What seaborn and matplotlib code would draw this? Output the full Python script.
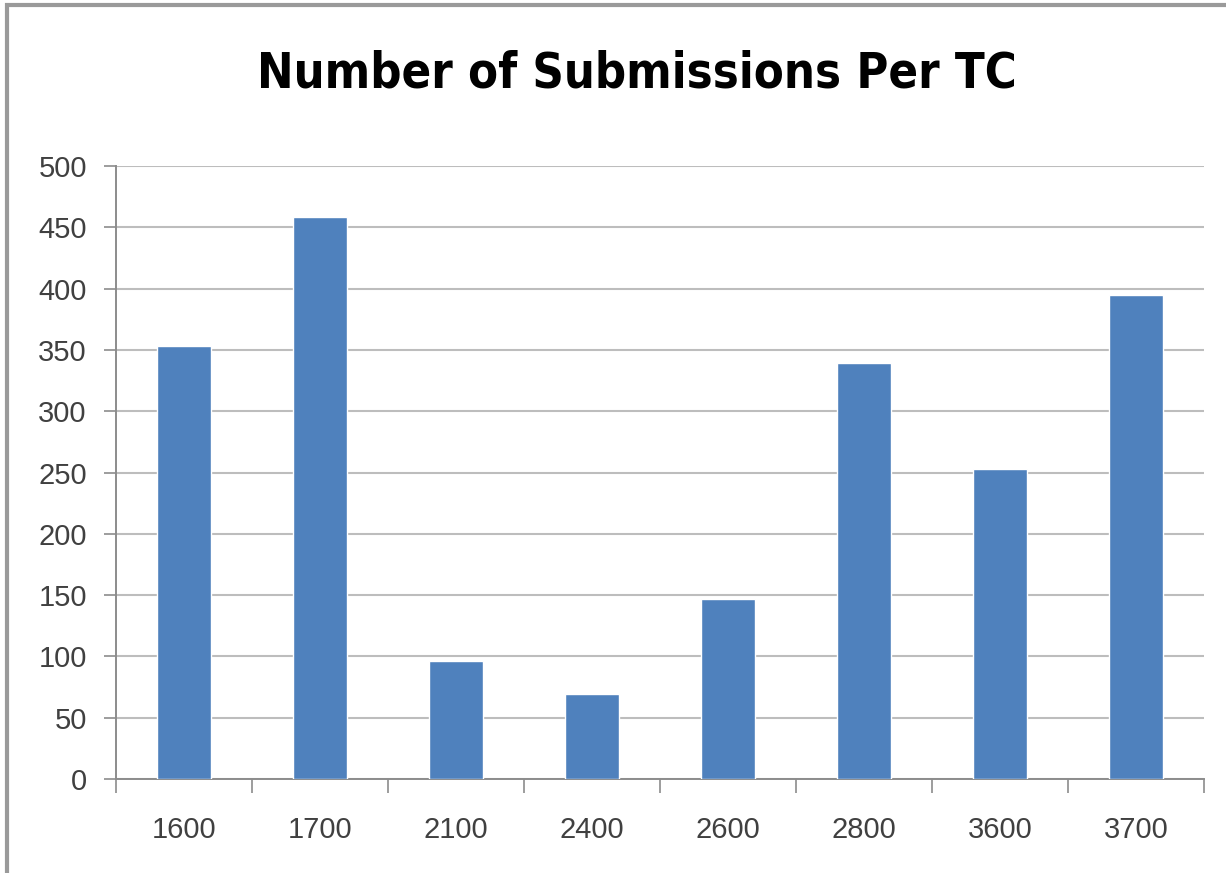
import pandas as pd
import matplotlib.pyplot as plt
import seaborn as sns
from matplotlib.patches import Rectangle

# ── Data ──────────────────────────────────────────────────────────────────
tc_codes = ['1600', '1700', '2100', '2400', '2600', '2800', '3600', '3700']
submissions = [353, 458, 96, 69, 147, 339, 253, 395]
y_ticks = [0, 50, 100, 150, 200, 250, 300, 350, 400, 450, 500]

df = pd.DataFrame({'tc': tc_codes, 'count': submissions})

# ── Style ─────────────────────────────────────────────────────────────────
sns.set_style('white')
plt.rcParams['font.family'] = ['Liberation Sans', 'DejaVu Sans']

bar_color = '#4F81BD'
grid_color = '#BDBDBD'
axis_color = '#8C8C8C'
label_color = '#404040'

fig = plt.figure(figsize=(12.26, 8.73), dpi=100)
ax = fig.add_axes([116 / 1226, 1 - 779 / 873, 1088 / 1226, 613 / 873])

sns.barplot(data=df, x='tc', y='count', color=bar_color, saturation=1,
            width=0.39, ax=ax, zorder=3)

ax.set_ylim(0, 500)
ax.set_xlim(-0.5, len(tc_codes) - 0.5)
ax.set_yticks(y_ticks)
ax.yaxis.grid(True, color=grid_color, linewidth=1.5, zorder=0)
ax.set_axisbelow(True)

# category separators as tick marks on x axis
ax.set_xticks([i + 0.5 for i in range(-1, len(tc_codes))], minor=True)
ax.tick_params(axis='x', which='minor', length=10, width=1.2,
               color=axis_color, direction='out', bottom=True)
ax.tick_params(axis='x', which='major', length=0, pad=27,
               labelsize=21, labelcolor=label_color)
ax.tick_params(axis='y', which='major', length=9, width=1.2,
               color=axis_color, direction='out', left=True, pad=12,
               labelsize=21, labelcolor=label_color)

for side in ['top', 'right']:
    ax.spines[side].set_visible(False)
for side in ['left', 'bottom']:
    ax.spines[side].set_color(axis_color)
    ax.spines[side].set_linewidth(1.4)

ax.set_xlabel('')
ax.set_ylabel('')

fig.text(637 / 1226, 1 - 88 / 873, 'Number of Submissions Per TC',
         ha='center', va='baseline', fontsize=35, fontweight='bold',
         fontstretch='condensed', family='DejaVu Sans', color='black')

# outer chart frame
fig.patches.append(Rectangle((7 / 1226, -0.05), 1.1, 1 - 5 / 873 + 0.05,
                             transform=fig.transFigure, fill=False,
                             edgecolor='#9A9A9A', linewidth=3))

fig.savefig('out.png', dpi=100)
print("Saved: out.png")
